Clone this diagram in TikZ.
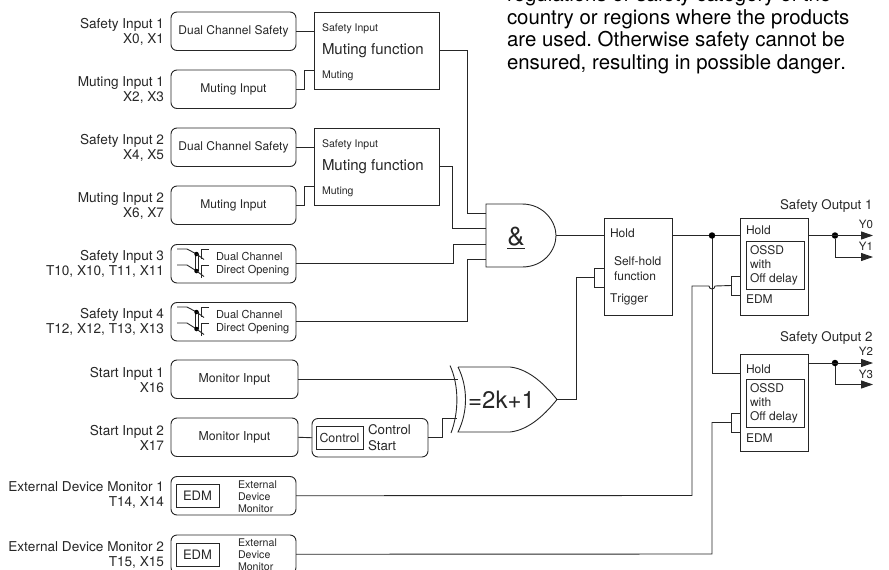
\documentclass[tikz,border=0pt]{standalone}
\usepackage{fontspec}
\setmainfont[Kerning=Off]{TeX Gyre Heros}
\usetikzlibrary{arrows.meta,calc}
\newcommand{\fs}[1]{\fontsize{#1}{#1}\selectfont\frenchspacing}
\newcommand{\fsl}[2]{\fontsize{#1}{#2}\selectfont\frenchspacing}
\begin{document}
\begin{tikzpicture}
[x=1pt,y=-1pt,color=black!85,line width=0.9pt,
 every node/.style={inner sep=0pt,outer sep=0pt},
 inputbox/.style={draw,rounded corners=6pt,minimum width=125pt,minimum height=38.5pt,anchor=north west},
 funcbox/.style={draw,anchor=north west,minimum width=68pt,minimum height=97pt},
 mutebox/.style={draw,anchor=north west,minimum width=125pt,minimum height=77pt},
 tagbox/.style={draw,anchor=north west},
 pinlabel/.style={anchor=west,font=\fs{12}},
 sidelabel/.style={anchor=east,align=right,font=\fsl{13.6}{15.8}},
 outlabel/.style={anchor=east,font=\fs{13.3}},
 outarrow/.style={-{Triangle[length=12pt,width=8pt]}},
 dot/.style={circle,fill=black,draw=none,minimum size=6.5pt}]
\useasboundingbox (0,0) rectangle (889,570);
%% note at the top
\node[anchor=base west,align=left,font=\fsl{20.4}{22.5},text=black] (note) at (507,69)
  {regulations or safety category of the\\ country or regions where the products\\
   are used. Otherwise safety cannot be\\ ensured, resulting in possible danger.};
%% left hand labels
\foreach \y/\ltext in {32/{Safety Input 1\\ X0, X1}, 90/{Muting Input 1\\ X2, X3},
  148/{Safety Input 2\\ X4, X5}, 206/{Muting Input 2\\ X6, X7},
  264/{Safety Input 3\\ T10, X10, T11, X11}, 322/{Safety Input 4\\ T12, X12, T13, X13},
  380/{Start Input 1\\ X16}, 438/{Start Input 2\\ X17},
  495/{External Device Monitor 1\\ T14, X14}, 555/{External Device Monitor 2\\ T15, X15}} {
  \node[sidelabel] at (164,\y) {\ltext};
}
%% input boxes
\foreach \boxname/\y/\btext in {dual1/12/Dual Channel Safety, mi1/70/Muting Input,
  dual2/128/Dual Channel Safety, mi2/186/Muting Input} {
  \node[inputbox,font=\fs{12}] (\boxname) at (171,\y) {\btext};
}
\foreach \boxname/\y in {dir3/244.5, dir4/302.5} {
  \node[inputbox] (\boxname) at (171,\y) {};
  \node[anchor=west,align=left,font=\fsl{11}{13}] at (216,\y+19.5)
    {Dual Channel\\ Direct Opening};
}
\foreach \boxname/\y in {mon1/360, mon2/418} {
  \node[inputbox,minimum width=127pt,font=\fs{12.3}] (\boxname) at (171,\y) {Monitor Input};
}
\foreach \boxname/\y in {edm1/476.5, edm2/535} {
  \node[inputbox] (\boxname) at (171,\y) {};
  \node[tagbox,minimum width=43pt,minimum height=23pt,font=\fs{13}] at (176,\y+8) {EDM};
  \node[anchor=west,align=left,font=\fsl{10.6}{12}] at (238,\y+20)
    {External\\ Device\\ Monitor};
}
%% the contacts
\foreach \y in {244.5, 302.5} {
  \draw (177,\y+4.5) -- (187,\y+4.5) -- (196.5,\y+9.5);
  \draw (177,\y+20.5) -- (187,\y+20.5) -- (196.5,\y+26.5);
  \draw[line width=0.7pt] (195.7,\y+9.5) -- (195.7,\y+26.5);
  \draw[line width=0.7pt] (198,\y+9.5) -- (198,\y+26.5);
  \node[dot,minimum size=4.5pt] at (196.5,\y+9.5) {};
  \node[dot,minimum size=4.5pt] at (196.5,\y+26.5) {};
  \draw (209,\y+4.5) -- (201,\y+4.5) -- (201,\y+14);
  \draw (209,\y+20.5) -- (201,\y+20.5) -- (201,\y+33);
  \draw (196.5,\y+9.5) -- (204,\y+15);
  \draw (196.5,\y+26.5) -- (204,\y+32);
}
%% control start
\node[inputbox,minimum width=116pt] (ctrl) at (312,418.5) {};
\node[tagbox,minimum width=47pt,minimum height=23pt,font=\fs{12.4}] at (316,426.5) {Control};
\node[anchor=west,align=left,font=\fsl{13.3}{16}] at (368,438) {Control\\ Start};
%% muting function
\foreach \boxname/\y in {mute1/12, mute2/128} {
  \node[mutebox] (\boxname) at (314,\y) {};
  \node[anchor=west,font=\fs{10.5}] at (322,\y+17) {Safety Input};
  \node[anchor=west,font=\fs{15}] at (322,\y+38.5) {Muting function};
  \node[anchor=west,font=\fs{10.5}] at (322,\y+63.5) {Muting};
}
%% self hold and outputs
\node[funcbox] (hold) at (604,218) {};
\node[pinlabel] at (610,233) {Hold};
\node[anchor=west,align=left,font=\fsl{12}{15}] at (614,269) {Self-hold\\ function};
\node[pinlabel] at (610,299) {Trigger};
\node[tagbox,minimum width=10pt,minimum height=19pt] (holdpin) at (594.5,268) {};
\foreach \boxname/\y/\yh/\yo/\ye in {out1/218/230/252/299, out2/354.5/369/390/438} {
  \node[funcbox] (\boxname) at (740.5,\y) {};
  \node[pinlabel] at (746,\yh) {Hold};
  \node[pinlabel] at (746,\ye) {EDM};
  \node[tagbox,minimum width=58.5pt,minimum height=48pt] (\boxname inner) at (746,\yo-11) {};
  \node[anchor=west,align=left,font=\fsl{12}{13.8}] at (750,\yo+13.5) {OSSD\\ with\\ Off delay};
}
\node[tagbox,minimum width=9.5pt,minimum height=19pt] (edmpin1) at (731,276) {};
\node[tagbox,minimum width=9.5pt,minimum height=19pt] (edmpin2) at (731,413) {};
%% and gate
\draw (486,204) -- (522,204) .. controls (544,204) and (556,222) .. (556,235.5)
  .. controls (556,250) and (544,267) .. (522,267) -- (486,267) -- cycle;
\node[font=\fs{26}] (andlabel) at (516,238) {\underline{\&}};
\coordinate (andout) at (556,235.5);
\coordinate (andin1) at (486,213);
\coordinate (andin2) at (486,228);
\coordinate (andin3) at (486,244);
\coordinate (andin4) at (486,259);
%% xor gate
\draw (458,367) -- (510,367) .. controls (530,369) and (547,387) .. (557,399.5)
  .. controls (547,412) and (530,430) .. (510,432) -- (458,432)
  .. controls (468,412) and (468,387) .. (458,367);
\draw (450,365.5) .. controls (459,385) and (459,412) .. (451,433);
\node[font=\fs{24}] (xorlabel) at (501.5,400) {=2k+1};
\coordinate (xorout) at (557,399.5);
%% muting wires
\draw (dual1.east) -- (dual1.east -| mute1.west);
\draw (dual2.east) -- (dual2.east -| mute2.west);
\foreach \m/\y/\t in {mi1/70/mute1, mi2/186/mute2} {
  \draw (\m.east) -- ++(8,0) |- (\t.west |- 0,\y);
}
%% into the and gate
\draw (mute1.east) -| (467,213) -- (andin1);
\draw (mute2.east) -| (452,228) -- (andin2);
\draw (dir3.east) -| (453,244) -- (andin3);
\draw (dir4.east) -| (467,259) -- (andin4);
\draw (andout) -- (andout -| hold.west);
%% into the xor gate
\draw (mon1.east) -- (mon1.east -| 458,0);
\draw (mon2.east) -- (ctrl.west);
\draw (ctrl.east) -- ++(14,0) |- (457,418);
\draw (xorout) -- ++(19,0) |- (holdpin.west);
%% hold line
\coordinate (holdout) at (hold.east |- andout);
\coordinate (fork) at (712,235.5);
\draw (holdout) -- (holdout -| out1.west);
\draw (fork) -- (fork |- 0,373) -- (out2.west |- 0,373);
\node[dot] (forkdot) at (fork) {};
%% edm wires, the first one hops over the hold line
\draw (edm1.east) -- (692,495.5) -- (692,286) -- (709,286) arc (180:0:3) -- (edmpin1.west);
\draw (edm2.east) -- (712,554) |- (edmpin2.west);
%% safety outputs
\foreach \oname/\y/\ya/\yb/\ta/\tb/\ttop/\yl in {out1/235.5/224/246/Y0/Y1/Safety Output 1/206,
  out2/363/351/374/Y2/Y3/Safety Output 2/338} {
  \node[dot] (\oname dot) at (835,\y) {};
  \draw[outarrow] (\oname.east |- 0,\y) -- (873,\y);
  \draw[outarrow] (\oname dot) |- (873,\y+21.5);
  \node[outlabel] at (873,\ya) {\fs{11.5}\ta};
  \node[outlabel] at (873,\yb) {\fs{11.5}\tb};
  \node[outlabel] at (872.5,\yl) {\ttop};
}
\end{tikzpicture}
\end{document}
